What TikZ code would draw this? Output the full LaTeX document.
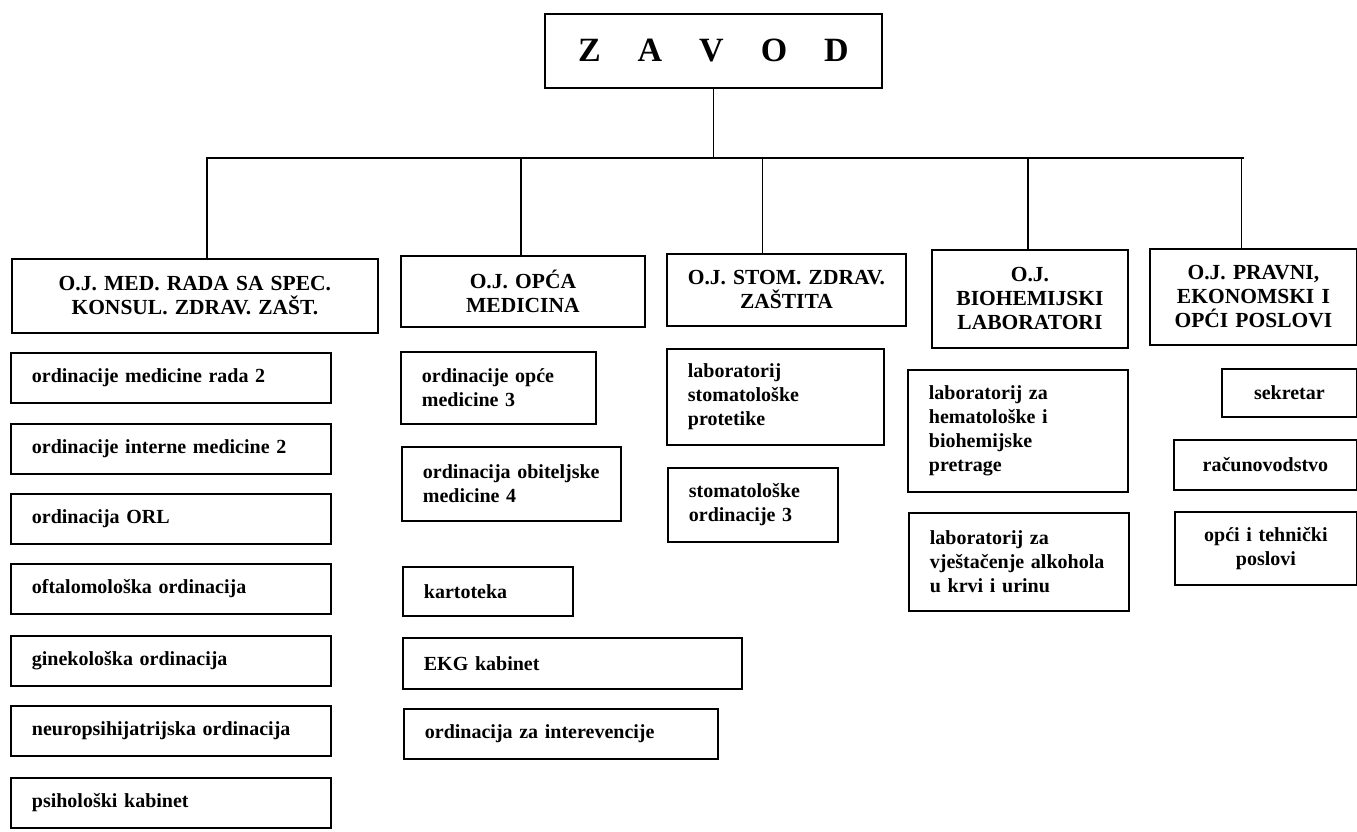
\documentclass[tikz,border=0pt]{standalone}
\usepackage{fontspec}
\setmainfont{Liberation Serif}
\begin{document}
\begin{tikzpicture}[x=1pt, y=-1pt, line width=1.8pt,
    head/.style={ draw, anchor=north west, align=center, inner sep=0pt,
      font=\fontsize{34}{36}\selectfont\bfseries },
    unit/.style={ draw, anchor=north west, align=center, inner sep=0pt,
      font=\fontsize{21.5}{24}\selectfont\bfseries },
    item/.style={ draw, anchor=north west, align=left, inner xsep=21pt,
      inner ysep=0pt, font=\fontsize{20}{24}\selectfont\bfseries },
    citem/.style={ item, align=center, inner xsep=0pt } ]
  \useasboundingbox (0,0) rectangle (1357,832);

  % vrh
  \node[head, text width=337pt, minimum height=74pt] (zavod) at (544,13)
    {Z\hspace{37pt}A\hspace{37pt}V\hspace{37pt}O\hspace{37pt}D};

  % organizacijske jedinice
  \node[unit, text width=366pt, minimum height=74pt] (ojmed) at (11,258)
    {O.J. MED. RADA SA SPEC.\\KONSUL. ZDRAV. ZAŠT.};
  \node[unit, text width=244pt, minimum height=71pt] (ojopca) at (400,255)
    {O.J. OPĆA\\MEDICINA};
  \node[unit, text width=239pt, minimum height=72pt] (ojstom) at (666,253)
    {O.J. STOM. ZDRAV.\\ZAŠTITA};
  \node[unit, text width=196pt, minimum height=98pt] (ojbio) at (931,249)
    {O.J.\\BIOHEMIJSKI\\LABORATORI};
  \node[unit, text width=207pt, minimum height=96pt] (ojpravni) at (1149,248)
    {O.J. PRAVNI,\\EKONOMSKI I\\OPĆI POSLOVI};

  % veze
  \coordinate (busL) at (206,158);
  \coordinate (busR) at (1244,158);
  \draw (zavod.south) -- (zavod.south |- busL);
  \draw (busL) -- (busR);
  \foreach \n/\d in {ojmed/12, ojopca/-2, ojstom/-24, ojbio/-2, ojpravni/-12}
  \draw ([xshift=\d pt]\n.north) -- ([xshift=\d pt]\n.north |- busL);

  % medicina rada
  \foreach \i/\y/\t in {1/352/ordinacije medicine rada 2,
      2/423/ordinacije interne medicine 2, 3/493/ordinacija ORL,
      4/563/oftalomološka ordinacija, 5/635/ginekološka ordinacija,
      6/705/neuropsihijatrijska ordinacija, 7/777/psihološki kabinet}
  \node[item, text width=278pt, minimum height=50pt] (rad\i) at (10,\y) {\t};

  % opca medicina
  \foreach \i/\x/\y/\w/\h/\t in {1/400/351/153/72/{ordinacije opće\\medicine 3},
      2/401/446/177/74/{ordinacija obiteljske\\medicine 4},
      3/402/566/128/49/kartoteka, 4/402/637/297/51/EKG kabinet,
      5/403/708/272/50/ordinacija za interevencije}
  \node[item, text width=\w pt, minimum height=\h pt] (opca\i) at (\x,\y) {\t};

  % stomatologija
  \node[item, text width=175pt, minimum height=96pt] (stom1) at (666,348)
    {laboratorij\\stomatološke\\protetike};
  \node[item, text width=128pt, minimum height=74pt] (stom2) at (667,467)
    {stomatološke\\ordinacije 3};

  % laboratoriji
  \node[item, text width=178pt, minimum height=122pt] (bio1) at (907,369)
    {laboratorij za\\hematološke i\\biohemijske\\pretrage};
  \node[item, text width=178pt, minimum height=98pt] (bio2) at (908,512)
    {laboratorij za\\vještačenje alkohola\\u krvi i urinu};

  % pravni poslovi
  \node[citem, text width=135pt, minimum height=48pt] (prav1) at (1221,368) {sekretar};
  \node[citem, text width=183pt, minimum height=50pt] (prav2) at (1173,439) {računovodstvo};
  \node[citem, text width=182pt, minimum height=73pt] (prav3) at (1174,511)
    {opći i tehnički\\poslovi};

\end{tikzpicture}
\end{document}
